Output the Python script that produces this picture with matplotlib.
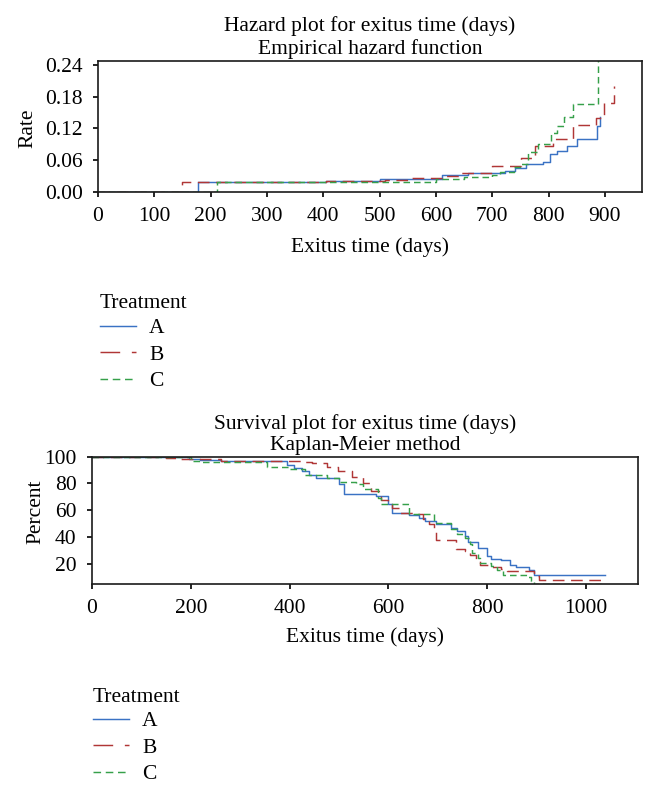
import matplotlib
matplotlib.use("Agg")
import matplotlib.pyplot as plt
from matplotlib.lines import Line2D
from matplotlib.ticker import FormatStrFormatter

# ---------------- data ----------------
groups = ["A", "B", "C"]
colors = {"A": "#3a72c4", "B": "#b03636", "C": "#36a04a"}
legend_title = "Treatment"

# Empirical hazard (step functions): jump times (days) and rate after each jump
haz_A_t = [0, 177, 405, 500, 610, 657, 722, 740, 760, 790, 802, 815, 832, 850, 886, 891]
haz_A_v = [0, 0.019, 0.021, 0.024, 0.032, 0.035, 0.040, 0.046, 0.052, 0.057, 0.071, 0.077, 0.086, 0.100, 0.124, 0.142]
haz_B_t = [0, 149, 405, 510, 554, 611, 643, 699, 751, 776, 808, 843, 885, 898, 917]
haz_B_v = [0, 0.019, 0.020, 0.022, 0.026, 0.030, 0.036, 0.050, 0.064, 0.086, 0.100, 0.126, 0.140, 0.168, 0.200]
haz_C_t = [0, 212, 540, 600, 650, 700, 713, 738, 750, 763, 782, 804, 815, 827, 844, 887]
haz_C_v = [0, 0.019, 0.018, 0.024, 0.028, 0.033, 0.038, 0.048, 0.053, 0.075, 0.090, 0.112, 0.124, 0.142, 0.167, 0.300]

# Kaplan-Meier survival (percent)
surv_A_t = [0, 196, 218, 262, 395, 410, 425, 440, 454, 500, 510, 575, 600, 608, 641, 663, 674, 696, 726, 740, 755, 762, 781, 799, 807, 829, 847, 858, 884, 895, 1038]
surv_A_v = [100, 98, 97.3, 96.5, 93.6, 91.4, 89, 86.7, 84.2, 79.5, 72, 70.3, 64.5, 58.3, 56.3, 54.5, 52, 50, 47, 44.5, 41, 36, 32, 26, 23.8, 22.8, 19.5, 17.8, 15.3, 12, 12]
surv_B_t = [0, 150, 174, 262, 432, 446, 476, 498, 527, 549, 564, 586, 600, 608, 623, 652, 670, 682, 692, 696, 737, 755, 766, 777, 785, 802, 829, 840, 895, 906, 1038]
surv_B_v = [100, 98.8, 98, 96.5, 96, 95, 92.3, 89, 84.5, 80, 74.5, 68, 65.8, 62, 58.3, 57, 53.3, 50, 44.5, 37.8, 30.8, 29.5, 26.3, 22, 19.5, 17.8, 16.3, 14.5, 10.8, 8.3, 8.3]
surv_C_t = [0, 200, 218, 354, 399, 432, 476, 501, 535, 549, 579, 585, 641, 693, 726, 740, 755, 766, 770, 781, 785, 807, 821, 832, 880, 888, 895, 1038]
surv_C_v = [100, 97, 96, 92, 90.6, 86.7, 84.2, 81, 79.5, 76, 69.5, 65, 57, 50.8, 45.8, 42.5, 39.5, 34.5, 28.3, 24.5, 20.8, 18.3, 15.8, 12, 10.3, 7, 5.3, 5.3]

haz_xticks = list(range(0, 1000, 100))
haz_yticks = [0.00, 0.06, 0.12, 0.18, 0.24]
surv_xticks = [0, 200, 400, 600, 800, 1000]
surv_yticks = [20, 40, 60, 80, 100]

# ---------------- style ----------------
plt.rcParams["font.family"] = ["Liberation Serif", "DejaVu Serif"]
FS = 15.5
plot_dash = {"A": None, "B": (8, 4.5), "C": (4.5, 2.7)}
leg_dash = {"A": None, "B": (13.5, 8), "C": (5.2, 3.2)}
LW = 1.05

W, H = 657, 792
fig = plt.figure(figsize=(W/100, H/100), dpi=100)
ax1 = fig.add_axes([98/W, 1-192/H, 544/W, 131.3/H])
ax2 = fig.add_axes([92/W, 1-584/H, 545.7/W, 127.3/H])

haz = {"A": (haz_A_t, haz_A_v), "B": (haz_B_t, haz_B_v), "C": (haz_C_t, haz_C_v)}
surv = {"A": (surv_A_t, surv_A_v), "B": (surv_B_t, surv_B_v), "C": (surv_C_t, surv_C_v)}

for g in groups:
    for ax, data in ((ax1, haz), (ax2, surv)):
        t, v = data[g]
        ln, = ax.plot(t, v, drawstyle="steps-post", color=colors[g], lw=LW)
        if plot_dash[g] is not None:
            ln.set_dashes(plot_dash[g])

def style(ax):
    for s in ax.spines.values():
        s.set_linewidth(1.2)
        s.set_color("#1a1a1a")
    ax.tick_params(direction="out", length=3.5, width=1.2, pad=7.5, labelsize=FS,
                   top=False, right=False)

ax1.set_xlim(0, 966)
ax1.set_ylim(0, 0.248)
ax1.set_xticks(haz_xticks)
ax1.set_yticks(haz_yticks)
ax1.yaxis.set_major_formatter(FormatStrFormatter("%.2f"))
style(ax1)
ax1.set_title("Hazard plot for exitus time (days)\nEmpirical hazard function",
              fontsize=FS, pad=4.5, linespacing=1.25)
ax1.set_xlabel("Exitus time (days)", fontsize=FS)
ax1.set_ylabel("Rate", fontsize=FS)
ax1.xaxis.set_label_coords(0.5, -0.419)
ax1.xaxis.label.set_va("center")
ax1.yaxis.set_label_coords(-0.128, 0.487)
ax1.yaxis.label.set_va("center")

ax2.set_xlim(0, 1105)
ax2.set_ylim(5, 100)
ax2.set_xticks(surv_xticks)
ax2.set_yticks(surv_yticks)
style(ax2)
ax2.set_title("Survival plot for exitus time (days)\nKaplan-Meier method",
              fontsize=FS, pad=4.5, linespacing=1.2)
ax2.set_xlabel("Exitus time (days)", fontsize=FS)
ax2.set_ylabel("Percent", fontsize=FS)
ax2.xaxis.set_label_coords(0.5, -0.416)
ax2.xaxis.label.set_va("center")
ax2.yaxis.set_label_coords(-0.103, 0.566)
ax2.yaxis.label.set_va("center")

def legend_handles():
    hs = []
    for g in groups:
        h = Line2D([], [], color=colors[g], lw=LW)
        if leg_dash[g] is not None:
            h.set_dashes(leg_dash[g])
        hs.append(h)
    return hs

# (left x, title centre y, top of first entry y) in pixels
for x0, ty, ytop in ((100, 304, 318), (93, 697, 711)):
    fig.text(x0/W, 1-ty/H, legend_title, fontsize=FS, ha="left", va="center")
    fig.legend(legend_handles(), groups, frameon=False,
               loc="upper left", bbox_to_anchor=(x0/W, 1-ytop/H),
               fontsize=FS, handlelength=1.68, borderpad=0,
               handletextpad=0.6, labelspacing=0.3, borderaxespad=0)

fig.savefig("out.png", dpi=100)
